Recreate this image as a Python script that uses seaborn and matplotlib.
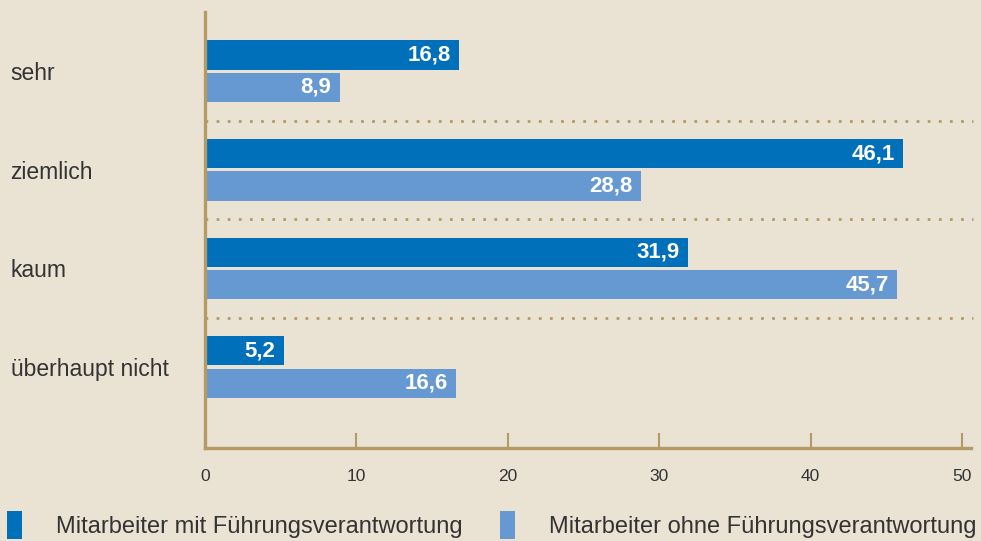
import numpy as np
import pandas as pd
import seaborn as sns
import matplotlib.pyplot as plt

# Werte aus der Grafik (Prozent)
kategorien = ['sehr', 'ziemlich', 'kaum', 'überhaupt nicht']
mit_fuehrung = [16.8, 46.1, 31.9, 5.2]
ohne_fuehrung = [8.9, 28.8, 45.7, 16.6]
gruppen = ['Mitarbeiter mit Führungsverantwortung', 'Mitarbeiter ohne Führungsverantwortung']
x_ticks = [0, 10, 20, 30, 40, 50]

BG = '#EAE3D4'
GOLD = '#B49A65'
DUNKEL = '#0070BA'
HELL = '#6699D2'
TEXT = '#333333'

df = pd.DataFrame({
    'Kategorie': kategorien * 2,
    'Wert': mit_fuehrung + ohne_fuehrung,
    'Gruppe': [gruppen[0]] * 4 + [gruppen[1]] * 4,
})

sns.set_style('white')
plt.rcParams['font.family'] = ['Liberation Sans', 'DejaVu Sans']

fig = plt.figure(figsize=(9.81, 5.41), dpi=100, facecolor=BG)
ax = fig.add_axes([205 / 981, 1 - 448 / 541, (971 - 205) / 981, (448 - 12) / 541])
ax.set_facecolor(BG)

sns.barplot(data=df, y='Kategorie', x='Wert', hue='Gruppe', order=kategorien,
            hue_order=gruppen, palette=[DUNKEL, HELL], width=0.66, gap=0.1,
            saturation=1, orient='h', legend=False, linewidth=0, ax=ax)

ax.set_xlim(0, 50.59)
ax.set_ylim(3.82, -0.6)
ax.set_xticks(x_ticks)
ax.set_xticklabels([str(t) for t in x_ticks], fontsize=12.5, color=TEXT)
ax.set_xlabel('')
ax.set_ylabel('')

for s in ['top', 'right']:
    ax.spines[s].set_visible(False)
for s in ['left', 'bottom']:
    ax.spines[s].set_color(GOLD)
    ax.spines[s].set_linewidth(2.4)

ax.tick_params(axis='x', bottom=True, direction='in', length=11, width=1.5,
               color=GOLD, pad=15)
ax.tick_params(axis='y', left=False, length=0, pad=140)
for lbl in ax.get_yticklabels():
    lbl.set_horizontalalignment('left')
    lbl.set_fontsize(16.5)
    lbl.set_color(TEXT)

# gepunktete Trennlinien
for y in [0.5, 1.5, 2.5]:
    ax.axhline(y, xmin=0, xmax=1.003, color=GOLD, linestyle=(0, (1, 3)),
               linewidth=2, clip_on=False)

# Werte in den Balken
for cont in ax.containers:
    labels = [f'{b.get_width():.1f}'.replace('.', ',') for b in cont]
    texts = ax.bar_label(cont, labels=labels, padding=-6, color='white',
                         fontsize=16, fontweight='bold')
    for t in texts:
        t.set_ha('right')

# Legende
handles = [plt.Rectangle((0, 0), 1, 1, color=c, linewidth=0) for c in [DUNKEL, HELL]]
fig.legend(handles, gruppen, loc='center left', bbox_to_anchor=(7 / 981, 1 - 525 / 541),
           ncol=2, frameon=False, fontsize=17, handlelength=0.64, handleheight=1.4,
           handletextpad=1.45, columnspacing=1.55, borderpad=0, borderaxespad=0,
           labelcolor=TEXT)

fig.savefig('out.png', dpi=100, facecolor=BG)
